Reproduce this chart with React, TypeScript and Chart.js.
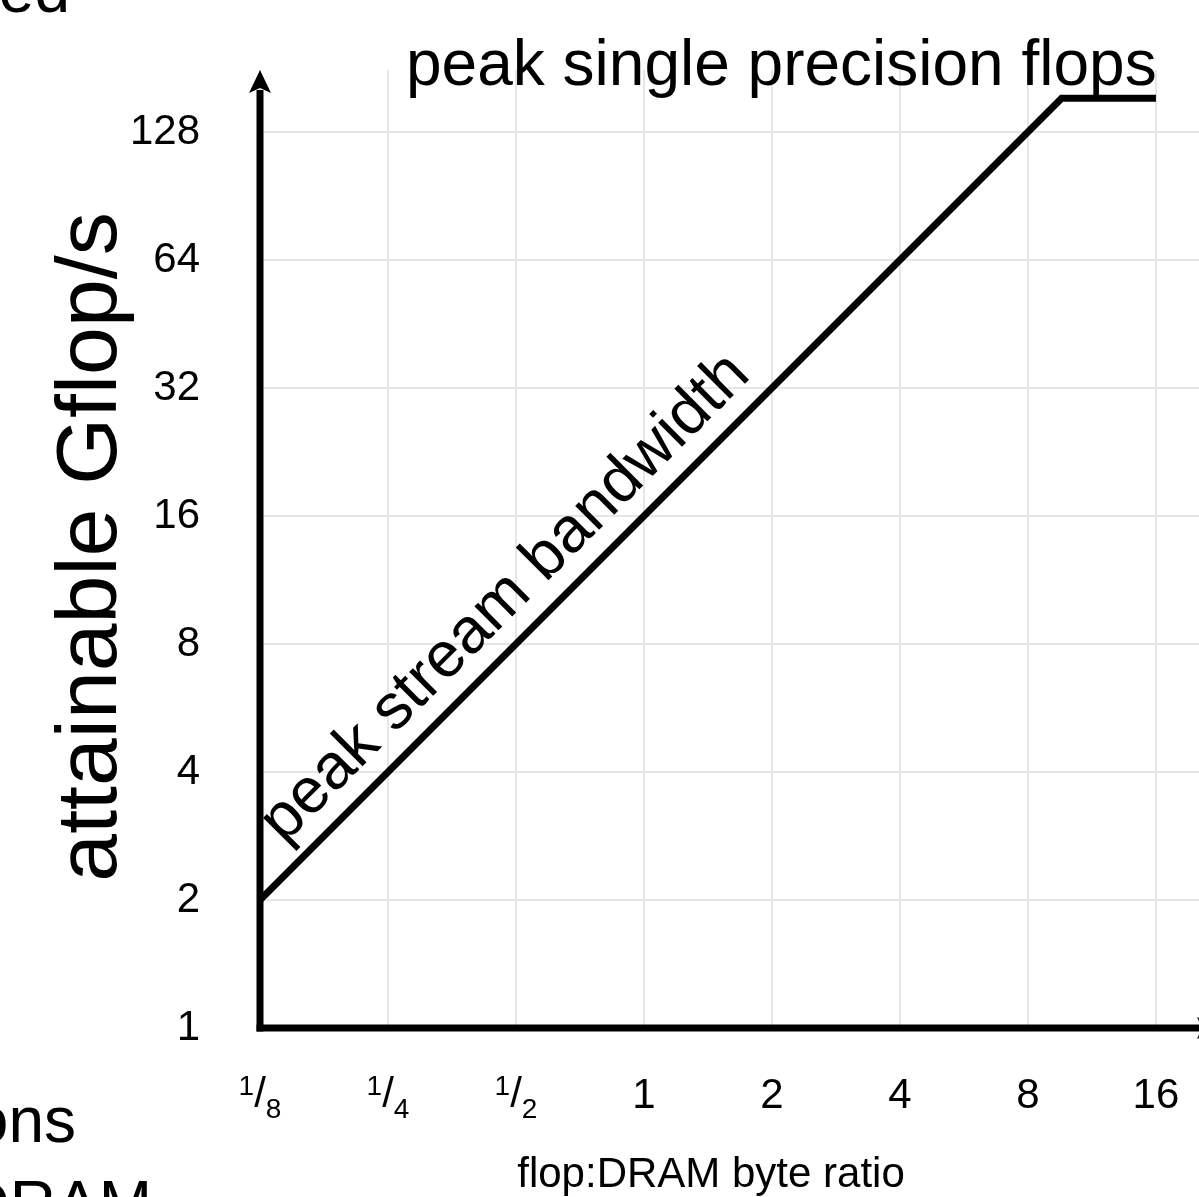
import React, { useEffect, useRef } from "react";
import { Chart, registerables } from "chart.js";

Chart.register(...registerables);

const FONT = '"Liberation Sans", Arial, Helvetica, sans-serif';

// x axis: flop:DRAM byte ratio (log2)
const xTicks = [0.125, 0.25, 0.5, 1, 2, 4, 8, 16];
const xTickLabels = ["1/8", "1/4", "1/2", "1", "2", "4", "8", "16"];
// y axis: attainable Gflop/s (log2)
const yTicks = [1, 2, 4, 8, 16, 32, 64, 128];
const yTickLabels = ["1", "2", "4", "8", "16", "32", "64", "128"];
// roofline: bandwidth slope then compute ceiling
const roofX = [0.125, 9.6, 16];
const roofY = [2, 153.6, 153.6];

const xAxisRange = [0.125, 20.2];
const yAxisRange = [1, 179];

const titleTop = "peak single precision flops";
const slopeLabel = "peak stream bandwidth";
const yTitle = "attainable Gflop/s";
const xTitle = "flop:DRAM byte ratio";
const sideFragments = ["ed", "ons", "DRAM"];

const overlay = {
  id: "overlay",
  afterDraw(chart: any) {
    const { ctx, chartArea, scales } = chart;
    const xs = scales.x;
    const ys = scales.y;
    const ax = chartArea.left;
    const ay = chartArea.bottom;
    ctx.save();
    ctx.fillStyle = "#000";
    ctx.strokeStyle = "#000";
    ctx.lineCap = "butt";
    ctx.lineWidth = 7;

    // y axis with arrow
    const top = chartArea.top;
    ctx.beginPath();
    ctx.moveTo(ax, ay + 3.5);
    ctx.lineTo(ax, top + 20);
    ctx.stroke();
    ctx.beginPath();
    ctx.moveTo(ax, top);
    ctx.lineTo(ax + 11, top + 23);
    ctx.lineTo(ax, top + 18);
    ctx.lineTo(ax - 11, top + 23);
    ctx.closePath();
    ctx.fill();

    // x axis with arrow
    const right = chartArea.right;
    ctx.beginPath();
    ctx.moveTo(ax - 3.5, ay);
    ctx.lineTo(right + 2, ay);
    ctx.stroke();
    ctx.beginPath();
    ctx.moveTo(right + 21, ay);
    ctx.lineTo(right - 2, ay - 11);
    ctx.lineTo(right + 3, ay);
    ctx.lineTo(right - 2, ay + 11);
    ctx.closePath();
    ctx.fill();

    // x tick labels (with fractions)
    ctx.textBaseline = "alphabetic";
    const base = ay + 80;
    xTicks.forEach((v, i) => {
      const px = xs.getPixelForValue(v);
      const lab = xTickLabels[i];
      if (lab.includes("/")) {
        const [num, den] = lab.split("/");
        ctx.textAlign = "left";
        ctx.font = `28px ${FONT}`;
        const wn = ctx.measureText(num).width;
        const wd = ctx.measureText(den).width;
        ctx.font = `42px ${FONT}`;
        const ws = ctx.measureText("/").width;
        const start = px - (wn + ws + wd) / 2;
        ctx.font = `28px ${FONT}`;
        ctx.fillText(num, start, base - 13);
        ctx.font = `42px ${FONT}`;
        ctx.fillText("/", start + wn, base - 1);
        ctx.font = `28px ${FONT}`;
        ctx.fillText(den, start + wn + ws, base + 10);
      } else {
        ctx.textAlign = "center";
        ctx.font = `42px ${FONT}`;
        ctx.fillText(lab, px, base);
      }
    });

    // x title
    ctx.textAlign = "center";
    ctx.font = `42px ${FONT}`;
    ctx.fillText(xTitle, 711, 1187);

    // y title
    ctx.save();
    ctx.translate(116, 547);
    ctx.rotate(-Math.PI / 2);
    ctx.font = `86px ${FONT}`;
    ctx.textAlign = "center";
    ctx.fillText(yTitle, 0, 0);
    ctx.restore();

    // top label
    ctx.textAlign = "left";
    ctx.font = `64px ${FONT}`;
    ctx.fillText(titleTop, 406, 85);

    // slope label
    const p0x = xs.getPixelForValue(roofX[0]);
    const p0y = ys.getPixelForValue(roofY[0]);
    const p1x = xs.getPixelForValue(roofX[1]);
    const p1y = ys.getPixelForValue(roofY[1]);
    const len = Math.hypot(p1x - p0x, p1y - p0y);
    const ux = (p1x - p0x) / len;
    const uy = (p1y - p0y) / len;
    const nx = uy;
    const ny = -ux;
    const along = 56;
    const off = 22;
    ctx.save();
    ctx.translate(p0x + ux * along + nx * off, p0y + uy * along + ny * off);
    ctx.rotate(Math.atan2(uy, ux));
    ctx.font = `64px ${FONT}`;
    ctx.textAlign = "left";
    ctx.fillText(slopeLabel, 0, 0);
    ctx.restore();

    // cut-off side text fragments
    ctx.textAlign = "right";
    ctx.font = `64px ${FONT}`;
    ctx.fillText(sideFragments[0], 70, 12);
    ctx.fillText(sideFragments[1], 76, 1142);
    ctx.fillText(sideFragments[2], 152, 1226);

    ctx.restore();
  },
};

export default function App() {
  const ref = useRef<HTMLCanvasElement | null>(null);
  useEffect(() => {
    if (!ref.current) return;
    Chart.defaults.font.family = FONT;
    const chart = new Chart(ref.current, {
      type: "scatter",
      data: {
        datasets: [
          {
            data: roofX.map((x, i) => ({ x, y: roofY[i] })),
            showLine: true,
            borderColor: "#000",
            backgroundColor: "#000",
            borderWidth: 7,
            pointRadius: 0,
            borderJoinStyle: "miter",
            borderCapStyle: "butt",
            fill: false,
          } as any,
        ],
      },
      options: {
        responsive: false,
        animation: false,
        events: [],
        layout: { padding: { top: 70, left: 0, right: 0, bottom: 0 } },
        plugins: { legend: { display: false }, tooltip: { enabled: false } },
        scales: {
          x: {
            type: "logarithmic",
            min: xAxisRange[0],
            max: xAxisRange[1],
            afterBuildTicks: (s: any) => {
              s.ticks = xTicks.map((v) => ({ value: v }));
            },
            afterFit: (s: any) => {
              s.height = 1197 - 1028;
              s.paddingLeft = 0;
              s.paddingRight = 0;
            },
            ticks: { display: false },
            grid: { color: "#e6e6e6", lineWidth: 2, drawTicks: false },
            border: { display: false },
          },
          y: {
            type: "logarithmic",
            min: yAxisRange[0],
            max: yAxisRange[1],
            afterBuildTicks: (s: any) => {
              s.ticks = yTicks.map((v) => ({ value: v }));
            },
            afterFit: (s: any) => {
              s.width = 260;
              s.paddingTop = 0;
              s.paddingBottom = 0;
            },
            ticks: {
              color: "#000",
              padding: 60,
              font: { size: 42, family: FONT },
              callback: (v: any) => {
                const i = yTicks.indexOf(Number(v));
                return i >= 0 ? yTickLabels[i] : "";
              },
            },
            grid: { color: "#e6e6e6", lineWidth: 2, drawTicks: false },
            border: { display: false },
          },
        },
      } as any,
      plugins: [overlay],
    });
    return () => chart.destroy();
  }, []);
  return (
    <canvas
      ref={ref}
      width={1199}
      height={1197}
      style={{ position: "fixed", left: 0, top: 0, display: "block", background: "#fff" }}
    />
  );
}
